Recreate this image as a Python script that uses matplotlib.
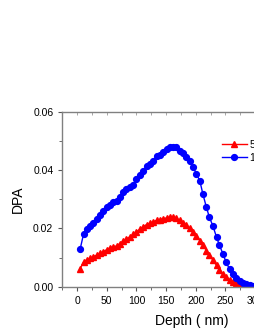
import numpy as np
import matplotlib
matplotlib.use("Agg")
import matplotlib.pyplot as plt
from matplotlib.ticker import MultipleLocator

plt.rcParams['font.family'] = ['Liberation Sans', 'DejaVu Sans']

# depth grid (nm)
depth = [5, 11, 16, 22, 27, 33, 39, 44, 50, 55, 61, 67, 72, 78, 83, 89, 95, 100,
         106, 111, 117, 123, 128, 134, 139, 145, 151, 156, 162, 167, 173, 179,
         184, 190, 195, 201, 207, 212, 218, 223, 229, 235, 240, 246, 251, 257,
         263, 268, 274, 279, 285, 291, 296, 302, 307]

dpa_red = [0.0062, 0.0085, 0.0092, 0.0097, 0.0103, 0.0108, 0.0114, 0.0120, 0.0127,
           0.0133, 0.0137, 0.0140, 0.0148, 0.0156, 0.0164, 0.0171, 0.0179, 0.0188,
           0.0197, 0.0205, 0.0213, 0.0217, 0.0222, 0.0228, 0.0230, 0.0233, 0.0236,
           0.0238, 0.0238, 0.0234, 0.0228, 0.0220, 0.0211, 0.0200, 0.0188, 0.0174,
           0.0158, 0.0142, 0.0124, 0.0108, 0.0091, 0.0073, 0.0058, 0.0043, 0.0034,
           0.0024, 0.0017, 0.0012, 0.0009, 0.0007, 0.0004, 0.0002, 0.0001, 0.0001,
           0.0000]

dpa_blue = [0.0128, 0.0182, 0.0198, 0.0208, 0.0219, 0.0232, 0.0245, 0.0259, 0.0272,
            0.0281, 0.0289, 0.0293, 0.0307, 0.0325, 0.0335, 0.0343, 0.0347, 0.0370,
            0.0383, 0.0396, 0.0413, 0.0421, 0.0432, 0.0448, 0.0452, 0.0462, 0.0471,
            0.0478, 0.0480, 0.0478, 0.0464, 0.0459, 0.0446, 0.0430, 0.0412, 0.0388,
            0.0362, 0.0318, 0.0272, 0.0238, 0.0208, 0.0170, 0.0142, 0.0112, 0.0085,
            0.0060, 0.0042, 0.0030, 0.0020, 0.0014, 0.0009, 0.0005, 0.0003, 0.0002,
            0.0001]

labels = ['5 MeV', '10 MeV']

W, H = 255, 330
fig = plt.figure(figsize=(W / 100, H / 100), dpi=100)
# axes extends beyond the right figure edge (cropped as in the reference)
ax = fig.add_axes([62.3 / W, 1 - 286.7 / H, 258 / W, 175 / H])

ax.plot(depth, dpa_red, color='#ff0000', marker='^', markersize=4, lw=1,
        label=labels[0])
ax.plot(depth, dpa_blue, color='#0000ff', marker='o', markersize=4.2, lw=1,
        label=labels[1])

ax.set_xlim(-25, 410)
ax.set_ylim(0, 0.06)
ax.xaxis.set_major_locator(MultipleLocator(50))
ax.xaxis.set_minor_locator(MultipleLocator(25))
ax.yaxis.set_major_locator(MultipleLocator(0.02))
ax.yaxis.set_minor_locator(MultipleLocator(0.01))
ax.yaxis.set_major_formatter(plt.FormatStrFormatter('%.2f'))

for s in ax.spines.values():
    s.set_color('#808080')
    s.set_linewidth(1)
ax.tick_params(which='both', direction='out', colors='#555555', labelcolor='black',
               labelsize=7.5)
ax.tick_params(which='major', length=3, width=0.8)
ax.tick_params(which='minor', length=2, width=0.6)

# small inward ticks along the top edge
top = ax.secondary_xaxis('top')
top.xaxis.set_major_locator(MultipleLocator(25))
top.tick_params(direction='in', length=2, width=0.6, colors='#999999',
                labeltop=False)
top.spines['top'].set_visible(False)

ax.set_xlabel('Depth ( nm)', fontsize=10, labelpad=6)
ax.set_ylabel('DPA', fontsize=10, labelpad=6)

ax.legend(loc='upper left', bbox_to_anchor=(222 / W, 1 - 140 / H),
          bbox_transform=fig.transFigure, frameon=False, fontsize=7.5,
          borderpad=0, borderaxespad=0, handlelength=2.4, handletextpad=0.3,
          labelspacing=0.25)

fig.savefig('out.png', dpi=100)
